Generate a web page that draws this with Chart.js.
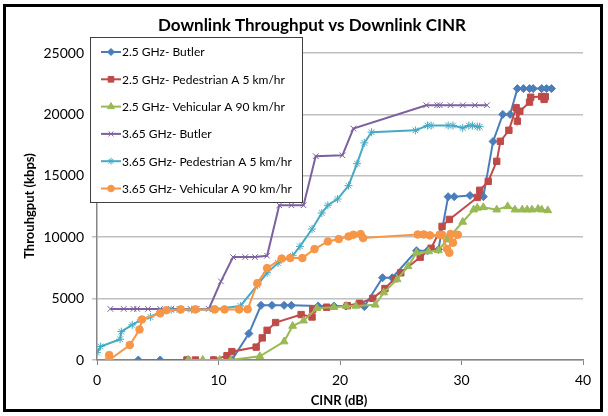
<!DOCTYPE html>
<html>
<head>
<meta charset="utf-8">
<script src="https://cdn.jsdelivr.net/npm/chart.js@4.4.1/dist/chart.umd.min.js"></script>
<style>
  html, body { margin: 0; padding: 0; background: #fff; }
  #wrap { position: relative; width: 608px; height: 416px; }
</style>
</head>
<body>
<div id="wrap"><canvas id="chart" width="608" height="416"></canvas></div>
<script>
// values (CINR in dB, throughput in kbps)
const butler25X = [3.4, 5.2, 7.4, 9.6, 11.1, 12.5, 13.5, 14.4, 15.4, 16.0, 18.2, 19.5, 20.5, 22.0, 23.5, 24.3, 26.3, 27.2, 28.1, 28.9, 29.4, 30.7, 31.5, 31.8, 32.6, 33.4, 34.0, 34.6, 35.1, 35.6, 35.9, 36.6, 37.0, 37.4];
const butler25Y = [0, 0, 0, 0, 0, 2150, 4450, 4450, 4450, 4450, 4400, 4400, 4400, 4350, 6700, 6700, 8900, 8900, 9000, 13300, 13300, 13400, 13350, 13300, 17800, 20000, 20000, 22100, 22100, 22100, 22100, 22100, 22100, 22100];

const pedA25X = [7.4, 8.1, 9.6, 10.7, 11.1, 13.1, 13.6, 14.0, 14.7, 16.8, 17.7, 17.75, 18.9, 20.6, 21.6, 22.7, 23.7, 24.5, 25.0, 26.6, 27.5, 28.4, 29.0, 31.3, 31.5, 32.2, 32.9, 33.2, 33.9, 34.5, 34.6, 34.8, 35.6, 35.7, 36.6, 36.8, 36.9];
const pedA25Y = [0, 0, 0, 350, 680, 1050, 1800, 2420, 3050, 3700, 3500, 4120, 4300, 4420, 4620, 5020, 5820, 6620, 7100, 8370, 9100, 10880, 11450, 13240, 13820, 14550, 16180, 17810, 18710, 20540, 19450, 20260, 21000, 21400, 21460, 21220, 21440];

const vehA25X = [7.5, 8.7, 10.1, 11.0, 13.4, 15.4, 16.1, 17.0, 18.1, 19.5, 20.5, 21.3, 22.9, 23.6, 24.7, 25.6, 26.3, 27.3, 28.1, 28.8, 30.1, 31.0, 31.3, 31.8, 32.9, 33.8, 34.4, 35.0, 35.4, 35.8, 36.3, 36.6, 37.1];
const vehA25Y = [0, 0, 0, 0, 300, 1500, 2770, 3200, 4220, 4300, 4400, 4400, 4490, 5490, 6560, 7620, 8740, 8840, 8920, 9800, 11240, 12240, 12380, 12430, 12240, 12510, 12240, 12240, 12240, 12240, 12300, 12240, 12180];

const butler365X = [1.1, 2.2, 3.0, 3.3, 4.2, 5.2, 6.1, 6.8, 7.7, 8.2, 9.2, 10.2, 11.2, 12.2, 13.0, 14.0, 15.0, 16.0, 17.0, 18.0, 20.2, 21.1, 27.1, 28.0, 28.2, 29.1, 30.1, 31.1, 32.1];
const butler365Y = [4160, 4160, 4160, 4160, 4160, 4160, 4160, 4160, 4160, 4160, 4160, 6400, 8380, 8380, 8380, 8490, 12600, 12600, 12600, 16600, 16670, 18850, 20750, 20750, 20750, 20750, 20750, 20750, 20750];

const pedA365X = [0.0, 0.3, 1.9, 2.0, 2.9, 3.6, 4.4, 5.2, 6.1, 6.8, 7.8, 9.5, 11.8, 13.2, 14.0, 14.9, 16.1, 16.7, 17.7, 18.5, 19.0, 19.8, 20.7, 21.4, 22.0, 22.6, 26.2, 27.2, 27.5, 28.9, 29.3, 30.1, 30.6, 30.9, 31.3, 31.5];
const pedA365Y = [600, 1100, 1690, 2310, 2860, 3260, 3500, 3930, 4080, 4080, 4100, 4120, 4400, 6100, 7100, 7900, 8490, 9250, 10670, 11970, 12600, 13110, 14200, 15990, 17680, 18550, 18700, 19090, 19090, 19090, 19090, 18900, 19090, 19090, 19000, 19000];

const vehA365X = [1.0, 1.0, 2.7, 3.5, 3.7, 5.2, 5.7, 6.9, 8.1, 9.7, 10.5, 11.7, 12.4, 13.2, 14.0, 15.2, 15.9, 16.9, 17.9, 19.0, 19.9, 20.7, 21.1, 21.7, 21.9, 26.4, 26.9, 27.4, 28.2, 28.4, 28.8, 29.0, 29.1, 29.3, 29.7];
const vehA365Y = [400, 0, 1220, 2480, 3300, 3800, 4050, 4120, 4120, 4120, 4120, 4120, 4130, 6260, 7480, 8260, 8300, 8300, 9030, 9650, 9850, 10060, 10200, 10250, 9930, 10220, 10220, 10150, 10200, 10200, 9050, 8730, 10250, 9550, 10200];

const seriesNames = [
  "2.5 GHz- Butler",
  "2.5 GHz- Pedestrian A 5 km/hr",
  "2.5 GHz- Vehicular A 90 km/hr",
  "3.65 GHz- Butler",
  "3.65 GHz- Pedestrian A 5 km/hr",
  "3.65 GHz- Vehicular A 90 km/hr"
];
const yTicks = [0, 5000, 10000, 15000, 20000, 25000];
const xTicks = [0, 10, 20, 30, 40];

const FONT = "Lato, 'Liberation Sans', sans-serif";
Chart.defaults.font.family = FONT;
Chart.defaults.color = "#000";

function pts(xs, ys) {
  return xs.map((x, i) => ({ x: x, y: ys[i] }));
}

const looks = [
  { color: "#4a7ebb", style: "rectRot", r: 4 },
  { color: "#be4b48", style: "rect", r: 4.5 },
  { color: "#98b954", style: "triangle", r: 4.5 },
  { color: "#7d60a0", style: "crossRot", r: 4 },
  { color: "#46aac5", style: "star", r: 4 },
  { color: "#f79646", style: "circle", r: 3.8 }
];

const allSeries = [
  pts(butler25X, butler25Y),
  pts(pedA25X, pedA25Y),
  pts(vehA25X, vehA25Y),
  pts(butler365X, butler365Y),
  pts(pedA365X, pedA365Y),
  pts(vehA365X, vehA365Y)
];

const datasets = allSeries.map((d, i) => ({
  label: seriesNames[i],
  data: d,
  showLine: true,
  order: -i,
  borderColor: looks[i].color,
  backgroundColor: looks[i].color,
  borderWidth: 2,
  tension: 0,
  pointStyle: looks[i].style,
  pointRadius: looks[i].r,
  pointBorderWidth: 1,
  pointBorderColor: looks[i].color,
  pointBackgroundColor: looks[i].color
}));

// frame, title, axis titles and the boxed legend
const decor = {
  id: "decor",
  beforeDraw(chart) {
    const ctx = chart.ctx;
    ctx.save();
    ctx.fillStyle = "#fff";
    ctx.fillRect(0, 0, chart.width, chart.height);
    ctx.restore();
  },
  afterDraw(chart) {
    const ctx = chart.ctx;
    ctx.save();
    ctx.strokeStyle = "#000";
    ctx.lineWidth = 3;
    ctx.strokeRect(4.5, 5.5, 597, 405);

    ctx.fillStyle = "#000";
    ctx.textAlign = "center";
    ctx.textBaseline = "middle";
    ctx.font = "bold 17px " + FONT;
    ctx.fillText("Downlink Throughput vs Downlink CINR", 312, 26);

    ctx.font = "bold 13px " + FONT;
    ctx.fillText("CINR (dB)", 339, 401);
    ctx.save();
    ctx.translate(30, 206);
    ctx.rotate(-Math.PI / 2);
    ctx.fillText("Throuhgput (kbps)", 0, 0);
    ctx.restore();

    // legend box
    ctx.fillStyle = "#fff";
    ctx.fillRect(90, 37, 212, 165);
    ctx.strokeStyle = "#404040";
    ctx.lineWidth = 1;
    ctx.strokeRect(90.5, 37.5, 212, 165);
    ctx.font = "12px " + FONT;
    ctx.textAlign = "left";
    seriesNames.forEach((name, i) => {
      const y = 52 + i * 27.3;
      ctx.strokeStyle = looks[i].color;
      ctx.fillStyle = looks[i].color;
      ctx.lineWidth = 2;
      ctx.beginPath();
      ctx.moveTo(101, y);
      ctx.lineTo(121, y);
      ctx.stroke();
      ctx.lineWidth = 1;
      Chart.helpers.drawPoint(ctx, {
        pointStyle: looks[i].style,
        radius: looks[i].r - 0.5,
        borderWidth: 1,
        rotation: 0
      }, 111, y);
      ctx.fillStyle = "#000";
      ctx.fillText(name, 122, y + 0.5);
    });
    ctx.restore();
  }
};

new Chart(document.getElementById("chart"), {
  type: "scatter",
  data: { datasets: datasets },
  options: {
    responsive: false,
    animation: false,
    layout: { padding: { top: 53, right: 25, bottom: 0, left: 0 } },
    plugins: {
      legend: { display: false },
      title: { display: false },
      tooltip: { enabled: false }
    },
    scales: {
      x: {
        type: "linear",
        min: 0,
        max: 40,
        afterFit: s => { s.height = 56; },
        afterBuildTicks: s => { s.ticks = xTicks.map(v => ({ value: v })); },
        grid: {
          drawOnChartArea: false,
          drawTicks: true,
          tickLength: 5,
          color: "#868686"
        },
        border: { color: "#868686", width: 1.5 },
        ticks: { padding: 7, font: { size: 14 }, color: "#000" }
      },
      y: {
        min: 0,
        max: 25000,
        afterFit: s => { s.width = 97; },
        afterBuildTicks: s => { s.ticks = yTicks.map(v => ({ value: v })); },
        grid: {
          color: "#c0c0c0",
          lineWidth: 1.5,
          tickLength: 5
        },
        border: { color: "#868686", width: 1.5 },
        ticks: {
          padding: 8,
          font: { size: 14 },
          color: "#000",
          callback: v => String(v)
        }
      }
    }
  },
  plugins: [decor]
});
</script>
</body>
</html>
